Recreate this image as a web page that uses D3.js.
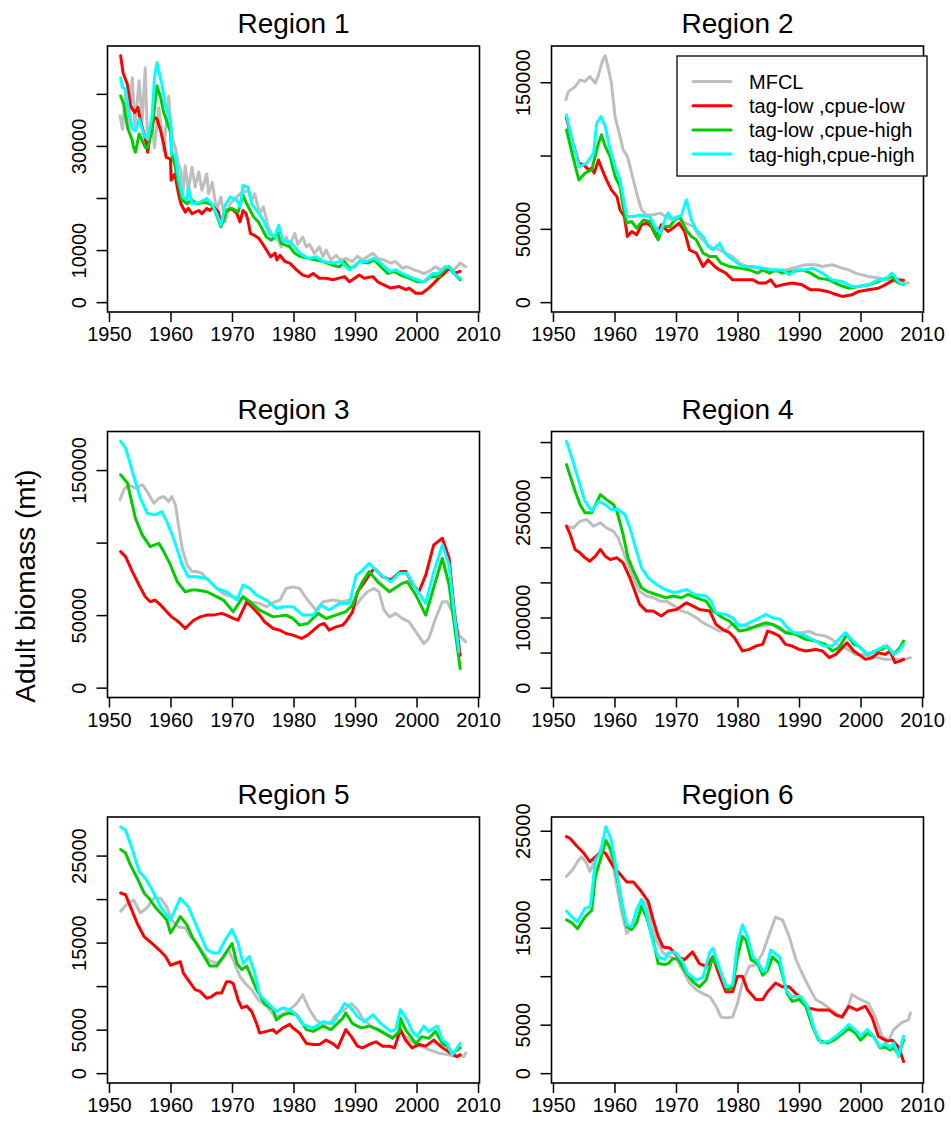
<!DOCTYPE html>
<html>
<head>
<meta charset="utf-8">
<script src="https://cdn.jsdelivr.net/npm/d3@7"></script>
<style>
  html, body { margin: 0; padding: 0; background: #fff; }
  svg { display: block; }
  text { font-family: "Liberation Sans", Arial, Helvetica, sans-serif; fill: #000; }
</style>
</head>
<body>
<svg id="chart" width="951" height="1139"></svg>
<script>
// ---- Series definitions -------------------------------------------------
const seriesNames  = ["MFCL", "tag-low ,cpue-low", "tag-low ,cpue-high", "tag-high,cpue-high"];
const seriesColors = ["#BEBEBE", "#FF0000", "#00CD00", "#00FFFF"];

// Model years covered (axis range is padded 4% either side, as in base R)
const yearRange = [1952, 2008];
const xTicks = [1950, 1960, 1970, 1980, 1990, 2000, 2010];

// ---- Region 1 (adult biomass, t) ----------------------------------------
const r1Mfcl = [[1951.8,35800],[1952.2,33200],[1952.7,40600],[1953.2,33600],[1953.8,43100],[1954.2,33600],[1954.9,42500],[1955.4,34800],[1955.9,45000],[1956.3,29700],[1957.0,34200],[1957.4,29700],[1958.1,37400],[1958.9,29100],[1959.7,39600],[1960.2,31700],[1960.8,29700],[1961.3,26600],[1961.7,25300],[1962.0,20800],[1962.4,26200],[1962.9,21500],[1963.5,25900],[1964.0,22100],[1964.6,25000],[1965.1,21500],[1965.9,24600],[1966.2,20800],[1966.8,23000],[1967.5,17600],[1968.2,20200],[1968.9,15400],[1969.7,18900],[1971.3,20800],[1972.6,21500],[1973.2,19600],[1973.7,20800],[1974.5,17000],[1975.1,18300],[1975.9,14500],[1976.7,12500],[1977.5,11900],[1978.0,10600],[1978.8,12500],[1979.4,10900],[1980.2,13200],[1980.7,11100],[1981.5,12500],[1982.1,10600],[1982.6,11100],[1983.4,9400],[1984.2,10600],[1984.8,8800],[1985.3,10000],[1986.1,8100],[1986.9,9000],[1987.7,8100],[1988.5,8400],[1989.6,7800],[1990.4,8800],[1991.2,8100],[1992.9,9400],[1993.7,8400],[1994.7,8100],[1995.8,7500],[1996.6,7800],[1997.7,6500],[1998.5,6800],[1999.6,6200],[2000.4,5900],[2001.2,5500],[2002.0,5900],[2003.1,6800],[2003.9,6200],[2004.7,6800],[2006.1,6200],[2007.1,7500],[2008.0,6800]];
const r1LowLow = [[1951.9,47300],[1952.3,44000],[1953.0,41800],[1953.5,37700],[1954.2,36400],[1954.7,37400],[1955.1,34900],[1955.7,32300],[1956.1,30400],[1956.3,28800],[1956.7,32300],[1957.4,35500],[1957.8,35200],[1958.4,32900],[1958.9,30400],[1959.3,27800],[1960.0,27500],[1960.1,23400],[1960.7,24600],[1961.3,20800],[1961.7,18900],[1962.4,17300],[1962.9,18000],[1963.5,17000],[1964.6,17600],[1965.1,17000],[1965.9,18000],[1966.4,17600],[1967.0,18300],[1967.8,17300],[1968.2,14800],[1968.6,16400],[1969.1,17600],[1970.0,17900],[1970.8,17000],[1971.3,15400],[1971.8,17600],[1972.3,17000],[1972.6,15700],[1973.0,13200],[1973.7,12800],[1974.4,12200],[1975.3,10600],[1976.3,8700],[1977.0,9400],[1977.3,8100],[1977.8,9000],[1978.6,7800],[1979.4,7500],[1980.5,6200],[1981.5,5200],[1982.4,4900],[1983.2,5500],[1984.2,4600],[1985.3,4600],[1986.4,4300],[1988.3,4900],[1989.1,3900],[1990.7,5200],[1991.5,4600],[1992.9,4900],[1993.7,3900],[1994.7,3300],[1995.8,2700],[1997.2,3000],[1998.3,2400],[1998.8,2700],[1999.9,1700],[2000.9,1700],[2002.0,2700],[2002.8,3600],[2003.6,4600],[2004.5,5500],[2005.3,6500],[2006.1,5500],[2007.1,5900]];
const r1LowHigh = [[1951.9,39600],[1952.4,38000],[1953.0,33600],[1953.8,31000],[1954.0,29700],[1954.3,28800],[1954.9,32300],[1955.4,31000],[1955.9,29700],[1956.3,29700],[1957.0,32900],[1957.4,37400],[1957.8,41500],[1958.4,39300],[1958.9,36400],[1959.4,34800],[1960.0,32600],[1960.2,28500],[1960.8,25900],[1961.3,22700],[1961.9,19600],[1962.7,18900],[1963.5,19600],[1964.3,18900],[1965.4,19200],[1966.4,18900],[1967.0,18300],[1967.5,16700],[1968.2,14500],[1968.6,15700],[1969.1,17600],[1970.0,18000],[1971.0,17300],[1971.8,20500],[1972.4,18900],[1973.5,16400],[1974.3,15400],[1975.6,12500],[1976.4,11900],[1977.5,13200],[1978.0,11300],[1979.4,10600],[1980.2,9400],[1981.0,8800],[1982.4,8400],[1983.7,8100],[1984.8,7800],[1986.4,7100],[1987.5,6800],[1988.3,7800],[1989.1,6500],[1989.9,6800],[1990.7,7800],[1992.1,7500],[1993.1,8100],[1994.2,6800],[1995.3,5500],[1996.4,5900],[1997.4,5200],[1998.8,4600],[2000.1,3900],[2001.2,3900],[2002.3,4900],[2003.6,4900],[2004.5,6200],[2005.3,6800],[2006.1,5500],[2007.1,4300]];
const r1HighHigh = [[1951.9,43100],[1952.2,41200],[1952.7,40900],[1953.2,36800],[1953.8,33200],[1954.3,32900],[1954.9,35200],[1955.7,32000],[1956.3,31300],[1957.0,35800],[1957.4,43100],[1957.8,46000],[1958.6,41800],[1959.2,37700],[1959.7,36400],[1960.1,33600],[1960.2,28500],[1960.8,28200],[1961.3,24000],[1962.0,20200],[1962.7,19600],[1962.9,22100],[1963.5,18900],[1964.8,19200],[1965.9,19900],[1966.7,18900],[1967.5,17000],[1968.2,14800],[1968.9,18600],[1969.7,20200],[1970.8,19600],[1971.3,18300],[1971.8,22400],[1972.6,22100],[1973.2,18900],[1974.0,17600],[1975.1,15700],[1976.2,12900],[1977.0,12600],[1977.6,14800],[1978.2,11900],[1979.4,11600],[1980.2,10600],[1981.0,9400],[1982.4,8400],[1983.7,8700],[1984.8,7800],[1986.4,7500],[1987.7,7800],[1989.1,6200],[1990.7,7800],[1991.8,7800],[1993.1,8400],[1994.2,7500],[1995.6,5900],[1996.6,6200],[1997.7,5500],[1998.8,4900],[2000.1,4300],[2001.2,3900],[2002.6,5500],[2003.6,5500],[2004.7,6800],[2005.3,6800],[2006.1,5500],[2007.1,4600]];

// ---- Region 2 -----------------------------------------------------------
const r2Mfcl = [[1952.1,138000],[1952.5,143600],[1953.6,147000],[1954.4,151600],[1955.2,150500],[1956.0,153900],[1956.9,149300],[1957.4,155000],[1958.1,165200],[1958.5,168000],[1959.0,159500],[1959.5,149300],[1960.1,126600],[1960.9,113000],[1961.4,104000],[1962.1,99300],[1962.8,88000],[1963.6,74300],[1964.4,63000],[1965.2,59500],[1966.3,59500],[1967.4,60700],[1968.4,58400],[1969.3,56100],[1970.1,58400],[1971.1,54800],[1972.8,51600],[1973.8,44800],[1974.9,40200],[1976.0,36800],[1977.1,35700],[1978.1,33400],[1979.2,31100],[1980.3,26600],[1981.7,24300],[1983.0,23200],[1984.6,22000],[1986.2,20900],[1987.8,22000],[1988.9,23200],[1990.0,24300],[1991.1,25500],[1992.7,25500],[1993.8,24300],[1995.4,25500],[1997.0,23200],[1998.1,22000],[1999.2,19800],[2000.2,18600],[2001.3,17500],[2002.9,16400],[2004.6,15200],[2005.6,14100],[2006.7,13000],[2007.8,13000]];
const r2LowLow = [[1952.2,125500],[1953.1,110700],[1954.2,94800],[1955.0,93600],[1955.8,90200],[1956.3,91400],[1956.7,88000],[1957.4,97000],[1957.9,91400],[1958.7,83400],[1959.5,76600],[1960.4,72000],[1960.9,63000],[1961.6,58400],[1962.1,44800],[1962.8,48200],[1963.6,45900],[1964.4,52700],[1965.2,53900],[1966.0,51600],[1966.8,44800],[1967.6,52700],[1968.7,48200],[1969.5,50500],[1970.5,53900],[1971.4,48200],[1972.2,35700],[1973.3,33400],[1974.4,24300],[1975.2,28900],[1976.3,24300],[1977.1,22000],[1978.1,19800],[1979.2,15200],[1980.8,15200],[1982.5,15200],[1983.5,13000],[1984.6,13000],[1985.4,15200],[1986.2,10700],[1987.3,11800],[1988.9,13000],[1990.5,11800],[1991.9,8400],[1993.2,8400],[1994.6,7300],[1995.4,6100],[1997.0,3900],[1998.6,5000],[1999.7,7300],[2001.3,8400],[2002.9,9500],[2004.0,11800],[2005.4,15200],[2006.2,15200],[2007.0,15000]];
const r2LowHigh = [[1952.2,117500],[1953.1,101600],[1954.2,83400],[1955.2,88000],[1956.3,90200],[1957.4,108400],[1957.9,114100],[1958.5,106100],[1959.3,99300],[1960.1,85700],[1960.9,78900],[1961.4,65200],[1962.0,53900],[1962.8,55000],[1963.6,50500],[1964.7,56100],[1965.7,55000],[1966.6,47700],[1967.1,42500],[1967.9,51600],[1969.0,51600],[1969.8,56100],[1970.6,58400],[1971.7,48900],[1972.5,44800],[1973.3,42500],[1974.4,33400],[1975.5,31100],[1976.5,31100],[1977.3,26600],[1978.7,24300],[1980.3,23200],[1981.9,22000],[1983.3,19800],[1984.1,22000],[1985.2,19800],[1986.2,22000],[1987.3,19800],[1988.9,20900],[1990.5,22000],[1991.9,19800],[1993.2,16400],[1994.9,15200],[1996.5,11800],[1998.1,9500],[1999.7,10700],[2001.3,11800],[2002.9,14100],[2004.3,16400],[2005.1,17500],[2006.2,13000],[2007.0,12000]];
const r2HighHigh = [[1952.2,127700],[1953.1,110700],[1954.3,92500],[1955.5,94800],[1956.6,101600],[1957.1,122000],[1957.8,126600],[1958.5,119800],[1959.3,103900],[1960.1,92500],[1960.9,83400],[1961.4,72000],[1962.0,58400],[1963.1,58400],[1964.1,59500],[1965.7,58400],[1966.6,51600],[1967.4,47000],[1968.2,56100],[1968.7,60700],[1969.5,56100],[1970.9,59500],[1971.7,69800],[1972.5,56100],[1973.3,49300],[1974.4,44800],[1975.2,38000],[1976.0,35700],[1977.1,40200],[1977.9,33400],[1979.2,28900],[1980.8,24300],[1982.5,24300],[1984.1,23200],[1985.7,22000],[1987.3,22000],[1988.4,18600],[1989.5,22000],[1991.1,22000],[1992.2,23200],[1993.8,19800],[1995.4,15200],[1997.0,14100],[1998.6,10700],[1999.7,10700],[2001.3,11800],[2002.9,15200],[2004.0,15200],[2005.1,19800],[2005.6,17500],[2006.4,13000],[2007.0,12500]];

// ---- Region 3 -----------------------------------------------------------
const r3Mfcl = [[1951.8,129500],[1952.4,136400],[1953.2,139900],[1954.3,137600],[1955.4,139900],[1956.2,135300],[1957.3,127200],[1958.1,130600],[1958.9,131800],[1959.7,128300],[1960.2,131800],[1960.8,126000],[1961.3,112200],[1961.9,96100],[1962.7,84600],[1963.5,80000],[1964.3,80000],[1965.1,78800],[1965.9,75300],[1967.0,70700],[1968.1,66100],[1969.1,63800],[1970.2,62700],[1971.6,61500],[1972.9,59200],[1974.5,58100],[1975.6,55800],[1977.0,59200],[1977.8,60400],[1978.8,68400],[1979.9,69500],[1981.0,68400],[1982.1,61500],[1983.2,55800],[1983.7,53500],[1984.8,59200],[1986.4,60400],[1988.0,59200],[1989.1,60400],[1990.2,56900],[1991.0,61500],[1992.0,66100],[1993.1,68400],[1993.9,66100],[1994.7,53500],[1995.6,48800],[1996.6,51200],[1997.7,47700],[1998.8,45400],[2000.1,37300],[2001.2,30400],[2002.0,33900],[2003.1,47700],[2004.2,59200],[2005.0,59200],[2005.8,52300],[2006.9,36200],[2008.0,31600]];
const r3LowLow = [[1951.9,93800],[1952.7,90300],[1953.8,80000],[1954.9,70700],[1955.9,62700],[1956.7,59200],[1957.5,60400],[1958.4,56900],[1959.4,52300],[1960.2,48800],[1961.3,45400],[1962.4,40800],[1963.2,44200],[1963.8,46500],[1964.8,48800],[1965.9,50000],[1967.0,50000],[1968.3,51200],[1969.1,50000],[1970.2,47700],[1971.0,46500],[1972.4,59200],[1973.5,54600],[1974.5,50000],[1975.3,45400],[1976.7,40800],[1977.8,39600],[1978.8,37300],[1979.9,36200],[1981.3,33900],[1982.3,36200],[1984.2,43100],[1985.0,44200],[1985.8,39600],[1986.9,41900],[1988.0,43100],[1988.5,45400],[1989.6,52300],[1990.4,66100],[1991.2,70700],[1992.3,77600],[1993.1,82300],[1994.5,76500],[1995.8,74200],[1997.4,80000],[1998.3,80000],[1999.3,71900],[2000.4,66100],[2001.5,77600],[2002.8,98400],[2004.2,103000],[2005.3,89200],[2006.1,54600],[2007.1,22400]];
const r3LowHigh = [[1951.9,146800],[1953.0,141000],[1954.3,116800],[1955.4,105300],[1956.7,97200],[1958.1,99500],[1958.9,93800],[1960.0,84600],[1961.1,73000],[1962.4,66100],[1963.5,67300],[1964.3,67300],[1965.9,66100],[1967.5,62700],[1968.6,60400],[1970.2,52300],[1971.8,62700],[1972.9,59200],[1974.5,53500],[1976.7,48800],[1978.8,50000],[1979.9,47700],[1981.0,43100],[1982.3,44200],[1984.0,51200],[1985.3,47700],[1986.9,50000],[1988.5,52300],[1989.6,56900],[1990.7,68400],[1991.2,73000],[1992.3,80000],[1993.7,73000],[1995.6,66100],[1997.7,71900],[1998.5,73000],[1999.9,63800],[2001.5,50000],[2002.6,66100],[2004.2,89200],[2005.3,70700],[2006.3,38500],[2007.1,13100]];
const r3HighHigh = [[1951.9,169800],[1952.7,165200],[1953.8,149100],[1955.1,130600],[1956.2,120300],[1957.5,119100],[1958.6,121400],[1959.4,114500],[1960.5,103000],[1961.9,84600],[1962.9,76500],[1964.3,76500],[1965.9,75300],[1967.5,68400],[1969.1,66100],[1970.8,60400],[1971.8,70700],[1972.9,68400],[1974.0,63800],[1975.6,60400],[1977.2,54600],[1978.3,55800],[1979.9,55800],[1981.5,50000],[1983.2,50000],[1984.5,56900],[1985.8,53500],[1987.5,58100],[1989.1,58100],[1990.2,77600],[1991.0,80000],[1992.3,85700],[1993.9,78800],[1995.8,73000],[1997.2,78800],[1998.5,78800],[1999.9,68400],[2001.5,58100],[2002.8,79900],[2004.2,98400],[2005.3,84600],[2006.1,52300],[2006.9,24700]];

// ---- Region 4 -----------------------------------------------------------
const r4Mfcl = [[1952.2,230200],[1953.3,227700],[1954.4,237200],[1955.5,239600],[1956.6,230200],[1957.7,234900],[1958.7,227700],[1959.8,223000],[1960.6,213500],[1961.4,194500],[1962.2,175500],[1963.1,156500],[1964.1,137600],[1965.2,130500],[1966.3,128100],[1967.4,123300],[1968.4,123300],[1969.8,116200],[1970.9,109100],[1971.9,106700],[1973.3,99600],[1974.4,92500],[1976.0,85400],[1977.1,80600],[1978.1,80600],[1979.0,90100],[1980.3,90100],[1981.4,87800],[1982.5,85400],[1984.1,87800],[1985.7,90100],[1986.8,83000],[1987.8,80600],[1988.9,78300],[1990.5,78300],[1991.6,80600],[1992.7,75900],[1994.3,73500],[1995.4,68800],[1996.5,59300],[1997.5,56900],[1999.2,47400],[2000.2,47400],[2001.3,45100],[2002.9,42700],[2004.0,40300],[2006.2,40300],[2007.2,40300],[2008.1,42700]];
const r4LowLow = [[1952.2,230200],[1952.8,218300],[1953.6,196900],[1954.4,192100],[1955.2,185000],[1956.0,180300],[1956.9,187400],[1957.7,196900],[1958.5,187400],[1959.3,182700],[1960.4,185000],[1961.4,177900],[1962.5,156500],[1963.3,137600],[1964.1,118600],[1965.2,109100],[1966.3,109100],[1967.6,102000],[1968.7,109100],[1970.1,111400],[1971.7,120900],[1972.8,116200],[1973.8,111400],[1975.5,109100],[1976.5,90100],[1977.6,83000],[1978.7,78300],[1979.5,71200],[1980.8,52200],[1981.9,54500],[1983.0,59300],[1984.1,61700],[1984.9,80600],[1985.7,78300],[1986.8,73500],[1987.8,61700],[1988.9,59300],[1990.0,54500],[1991.1,52200],[1992.7,54500],[1993.8,52200],[1994.9,42700],[1996.0,47400],[1997.8,64000],[1998.9,52200],[1999.7,47400],[2000.8,40300],[2001.9,42700],[2002.9,49800],[2004.0,47400],[2004.8,52200],[2005.6,35600],[2006.4,37900],[2007.0,40300]];
const r4LowHigh = [[1952.2,317800],[1953.6,279900],[1954.4,260900],[1955.2,249100],[1956.3,249100],[1957.7,275100],[1958.7,268000],[1959.8,260900],[1960.4,251400],[1961.4,218300],[1962.2,185000],[1963.1,166000],[1964.4,142300],[1965.2,137600],[1966.8,132800],[1968.4,128100],[1969.5,130500],[1970.9,128100],[1971.9,132800],[1973.3,128100],[1974.9,123300],[1976.0,109100],[1977.6,99600],[1978.7,94900],[1980.3,80600],[1981.7,83000],[1983.0,87800],[1984.6,92500],[1985.7,90100],[1986.8,85400],[1987.8,78300],[1989.5,75900],[1991.1,68800],[1992.7,66400],[1994.3,61700],[1995.4,52200],[1996.5,56900],[1997.8,75900],[1998.9,61700],[1999.7,59300],[2001.1,47400],[2002.4,52200],[2003.5,54500],[2004.3,59300],[2005.4,47400],[2006.4,56900],[2007.0,66400]];
const r4HighHigh = [[1952.2,351000],[1953.1,327300],[1954.2,294100],[1955.2,265700],[1956.3,251400],[1957.4,265700],[1958.5,260900],[1959.5,253800],[1960.6,253800],[1961.7,246700],[1962.5,227700],[1963.6,194500],[1964.4,170800],[1965.5,156500],[1966.8,147100],[1968.2,139900],[1969.8,135200],[1971.7,139900],[1973.0,132800],[1974.9,130500],[1975.7,123300],[1976.5,106700],[1978.1,104400],[1979.2,99600],[1980.3,87800],[1981.4,90100],[1982.5,94900],[1984.6,104400],[1985.7,99600],[1987.0,97300],[1988.1,85400],[1989.2,78300],[1990.5,75900],[1991.6,71200],[1992.7,66400],[1994.0,59300],[1995.4,59300],[1997.5,78300],[1998.3,71200],[1999.4,61700],[2001.1,47400],[2002.4,52200],[2003.8,59300],[2004.6,56900],[2005.4,47400],[2006.2,52200],[2007.0,61700]];

// ---- Region 5 -----------------------------------------------------------
const r5Mfcl = [[1951.9,18600],[1953.0,19500],[1954.0,19900],[1955.1,18400],[1956.2,19000],[1957.3,20100],[1958.4,20100],[1959.4,19100],[1960.2,17600],[1961.3,16800],[1962.4,16700],[1963.2,15700],[1964.3,14900],[1965.4,13800],[1966.2,13000],[1967.5,12600],[1968.6,13200],[1969.4,14200],[1970.2,13000],[1971.3,11100],[1972.4,10100],[1973.2,9600],[1974.3,8400],[1975.6,7700],[1977.0,6500],[1978.0,6700],[1979.4,7300],[1980.5,8000],[1981.5,9000],[1982.6,7300],[1983.7,6100],[1984.8,5600],[1985.9,5700],[1986.9,6700],[1988.0,7100],[1989.4,8000],[1990.4,7300],[1991.2,6300],[1992.6,5400],[1993.9,5000],[1995.3,4400],[1996.6,4200],[1997.7,4600],[1998.8,3800],[1999.9,3400],[2002.0,2700],[2003.6,2300],[2005.3,2100],[2006.1,1900],[2006.9,2100],[2007.7,1900],[2008.0,2300]];
const r5LowLow = [[1951.9,20700],[1952.7,20500],[1953.5,19100],[1954.6,17200],[1955.7,15700],[1957.0,14900],[1958.1,14200],[1959.2,13400],[1960.0,12400],[1960.8,12600],[1961.6,12800],[1962.1,11500],[1962.9,10700],[1964.0,9600],[1964.8,9400],[1965.9,8600],[1966.7,8800],[1967.5,9200],[1968.3,9200],[1969.1,10500],[1969.7,10500],[1970.2,10300],[1971.0,8400],[1971.6,7500],[1972.4,7700],[1973.2,7100],[1974.0,5700],[1974.5,4600],[1975.6,4800],[1976.7,5000],[1977.2,4600],[1978.3,5200],[1979.4,5600],[1979.9,5200],[1981.0,4600],[1982.1,3400],[1983.2,3300],[1984.2,3300],[1985.3,3800],[1986.4,3400],[1987.2,2900],[1988.0,4200],[1988.5,5000],[1989.4,4200],[1990.4,3100],[1991.2,2900],[1992.6,3400],[1993.4,3600],[1994.5,3100],[1995.6,3100],[1996.4,2900],[1997.4,5000],[1998.2,3800],[1999.3,2900],[2000.4,3300],[2001.5,3100],[2002.8,3800],[2003.9,3100],[2004.7,2700],[2005.5,2300],[2006.6,1900],[2007.1,2100]];
const r5LowHigh = [[1951.9,25700],[1952.7,25300],[1953.5,23900],[1954.6,22400],[1955.7,20700],[1956.5,20100],[1957.5,19100],[1959.4,17600],[1960.0,16100],[1960.8,17000],[1961.6,18000],[1962.7,17000],[1963.5,15700],[1964.8,14200],[1966.4,12300],[1967.5,12300],[1968.6,13400],[1970.0,14900],[1970.8,12600],[1971.6,11900],[1972.4,12300],[1974.0,9600],[1975.3,8000],[1976.7,7300],[1977.2,6100],[1978.3,6700],[1979.4,6900],[1980.5,6700],[1982.1,5000],[1983.2,4800],[1984.8,5400],[1986.1,5000],[1988.0,6300],[1988.5,6900],[1989.6,5700],[1991.0,5200],[1992.3,5400],[1993.7,5000],[1994.7,4600],[1996.1,4000],[1997.2,4800],[1997.4,6300],[1998.2,5000],[1999.9,3400],[2000.9,4200],[2002.0,4000],[2003.1,4800],[2004.2,3400],[2005.0,3100],[2005.8,2300],[2007.1,2900]];
const r5HighHigh = [[1951.9,28300],[1952.7,27900],[1953.8,25700],[1954.9,23200],[1955.9,22400],[1957.0,21100],[1958.4,19100],[1960.0,17600],[1961.6,20100],[1962.9,19100],[1964.3,16800],[1965.9,14200],[1967.0,13800],[1967.8,13800],[1968.9,15300],[1970.0,16500],[1971.0,14900],[1971.8,12600],[1972.8,13400],[1973.7,11500],[1974.5,9000],[1975.6,8200],[1977.2,7100],[1978.3,7500],[1979.4,7300],[1980.5,6700],[1981.5,5600],[1983.2,5200],[1984.8,5900],[1986.4,5700],[1988.3,8000],[1989.1,7700],[1990.4,6500],[1991.5,5900],[1992.9,6700],[1994.2,5700],[1995.8,4800],[1996.6,5000],[1997.4,7300],[1998.5,6100],[1999.3,4800],[2000.1,4200],[2001.2,5400],[2002.0,4800],[2003.4,5400],[2004.2,3800],[2005.0,3400],[2005.8,2100],[2007.1,3400]];

// ---- Region 6 -----------------------------------------------------------
const r6Mfcl = [[1952.2,20300],[1953.1,20900],[1954.2,22000],[1954.7,22300],[1955.5,21600],[1956.0,20800],[1956.9,22000],[1957.7,23000],[1958.5,23800],[1959.0,23700],[1959.8,21300],[1960.4,19200],[1961.2,16500],[1962.0,14400],[1962.8,15100],[1963.6,16800],[1964.4,17900],[1965.2,17500],[1966.0,15500],[1966.8,13700],[1967.9,12400],[1969.0,12000],[1970.1,11700],[1971.1,10600],[1972.2,9300],[1973.3,8600],[1974.4,8200],[1975.5,7900],[1976.5,6900],[1977.3,5800],[1978.1,5700],[1979.2,5800],[1980.0,7200],[1980.8,9300],[1981.9,11000],[1983.0,11200],[1984.1,12400],[1985.2,14400],[1986.2,16100],[1987.3,15800],[1988.4,14100],[1989.5,11700],[1990.5,10300],[1991.6,8900],[1992.7,7600],[1993.8,7200],[1994.9,6700],[1996.0,6200],[1997.0,5700],[1997.8,6500],[1998.6,8100],[1999.7,7700],[2001.3,7200],[2002.4,5800],[2003.5,3800],[2004.6,3400],[2005.4,4500],[2006.7,5200],[2007.8,5500],[2008.1,6200]];
const r6LowLow = [[1952.2,24400],[1952.8,24200],[1953.9,23400],[1955.0,22700],[1956.0,21800],[1956.9,22300],[1957.9,22800],[1958.5,22700],[1959.8,21300],[1961.2,20300],[1962.0,19700],[1963.1,19700],[1964.4,18700],[1965.5,17700],[1966.3,15800],[1967.1,14100],[1967.9,13000],[1969.0,12900],[1970.3,12000],[1971.4,11700],[1972.7,12500],[1973.8,11300],[1974.9,11000],[1976.0,12000],[1977.1,10000],[1978.1,8400],[1979.2,8400],[1980.0,10000],[1980.8,10000],[1981.6,8600],[1983.0,7600],[1984.1,7600],[1984.9,8400],[1986.2,9300],[1987.3,8900],[1988.4,8900],[1989.5,8200],[1990.5,7600],[1991.6,6700],[1993.2,6500],[1994.9,6500],[1996.0,6000],[1997.0,5800],[1998.1,6900],[1999.4,6500],[2000.8,6900],[2001.9,5700],[2002.9,3800],[2004.3,3300],[2005.1,3400],[2006.2,2700],[2007.0,1200]];
const r6LowHigh = [[1952.2,15800],[1953.1,15500],[1954.0,14900],[1955.2,16100],[1956.3,16800],[1956.9,20300],[1957.7,22000],[1958.6,24000],[1959.5,23000],[1960.4,20300],[1961.2,17500],[1962.0,15100],[1962.8,14800],[1963.6,15500],[1964.4,17200],[1965.2,16100],[1966.3,13700],[1967.1,11300],[1968.2,11200],[1968.7,11300],[1969.5,11800],[1970.3,11800],[1971.7,10300],[1972.8,9400],[1973.8,8900],[1974.9,9600],[1976.0,12000],[1977.3,10300],[1978.4,8600],[1979.2,8900],[1980.0,12000],[1980.8,14100],[1981.4,13700],[1982.2,11700],[1983.3,11300],[1984.1,10100],[1984.9,10600],[1985.7,12000],[1986.8,11300],[1988.1,8200],[1988.9,7400],[1990.0,7600],[1991.1,6900],[1992.2,4800],[1993.2,3400],[1994.6,3100],[1995.7,3400],[1996.7,3900],[1998.1,4600],[1999.2,4100],[2000.0,3400],[2001.1,4100],[2002.1,3800],[2003.2,2600],[2004.0,2700],[2004.8,2400],[2005.4,2600],[2006.2,1900],[2007.0,3400]];
const r6HighHigh = [[1952.2,16700],[1953.1,16100],[1954.0,15600],[1955.2,17000],[1956.1,17200],[1956.9,22000],[1957.7,22700],[1958.6,25400],[1959.5,24000],[1960.4,20600],[1961.2,17500],[1962.0,15300],[1962.8,15100],[1963.6,16800],[1964.4,17900],[1965.2,16500],[1966.3,13400],[1967.1,12000],[1968.2,11700],[1968.7,12400],[1969.8,12500],[1970.9,11700],[1971.9,10300],[1973.3,9600],[1974.4,9900],[1975.5,12500],[1976.0,12900],[1977.1,10800],[1978.1,8900],[1979.2,9100],[1980.0,13400],[1980.8,15300],[1981.6,14100],[1982.5,12000],[1983.3,11500],[1984.1,10500],[1984.6,10600],[1985.4,12700],[1986.8,12000],[1987.9,8600],[1988.7,7900],[1990.3,7900],[1991.4,6900],[1992.5,4500],[1993.6,3100],[1994.9,3300],[1996.0,3800],[1997.3,4500],[1998.1,5000],[1999.4,4300],[2000.0,3800],[2001.1,4500],[2002.1,3800],[2003.2,2700],[2004.0,3100],[2004.8,2600],[2005.4,3100],[2006.2,1700],[2006.8,3400],[2007.0,3800]];

// ---- Y-axis ticks (all drawn) and the subset that carries a label -------
const r1Ticks = [0, 10000, 20000, 30000, 40000];
const r1Labels = [0, 10000, 30000];
const r2Ticks = [0, 50000, 100000, 150000];
const r2Labels = [0, 50000, 150000];
const r3Ticks = [0, 50000, 100000, 150000];
const r3Labels = [0, 50000, 150000];
const r4Ticks = [0, 50000, 100000, 150000, 200000, 250000, 300000, 350000];
const r4Labels = [0, 100000, 250000];
const r5Ticks = [0, 5000, 10000, 15000, 20000, 25000];
const r5Labels = [0, 5000, 15000, 25000];
const r6Ticks = [0, 5000, 10000, 15000, 20000, 25000];
const r6Labels = [0, 5000, 15000, 25000];

const panelTitles = ["Region 1", "Region 2", "Region 3", "Region 4", "Region 5", "Region 6"];
const panelSeries = [
  [r1Mfcl, r1LowLow, r1LowHigh, r1HighHigh],
  [r2Mfcl, r2LowLow, r2LowHigh, r2HighHigh],
  [r3Mfcl, r3LowLow, r3LowHigh, r3HighHigh],
  [r4Mfcl, r4LowLow, r4LowHigh, r4HighHigh],
  [r5Mfcl, r5LowLow, r5LowHigh, r5HighHigh],
  [r6Mfcl, r6LowLow, r6LowHigh, r6HighHigh]
];
const panelTicks  = [r1Ticks, r2Ticks, r3Ticks, r4Ticks, r5Ticks, r6Ticks];
const panelLabels = [r1Labels, r2Labels, r3Labels, r4Labels, r5Labels, r6Labels];

// ---- Layout -------------------------------------------------------------
const colX = [107.5, 551.5];
const rowY = [46, 431.5, 817];
const PW = 372, PH = 266;
const TICK_FONT = 20, TITLE_FONT = 28;

const svg = d3.select("#chart");
svg.append("rect").attr("width", 951).attr("height", 1139).attr("fill", "#fff");

const xPad = 0.04 * (yearRange[1] - yearRange[0]);

panelSeries.forEach((series, i) => {
  const col = i % 2, row = Math.floor(i / 2);
  const g = svg.append("g").attr("transform", `translate(${colX[col]},${rowY[row]})`);

  const x = d3.scaleLinear()
    .domain([yearRange[0] - xPad, yearRange[1] + xPad])
    .range([0, PW]);
  // ylim = c(0, max) with the usual 4% extension
  const maxVal = d3.max(series.flat(), d => d[1]);
  const y = d3.scaleLinear()
    .domain([-0.04 * maxVal, 1.04 * maxVal])
    .range([PH, 0]);

  const line = d3.line().x(d => x(d[0])).y(d => y(d[1]));

  // lines: MFCL underneath, then the three scenarios
  series.forEach((s, k) => {
    g.append("path")
      .datum(s)
      .attr("d", line)
      .attr("fill", "none")
      .attr("stroke", seriesColors[k])
      .attr("stroke-width", 3)
      .attr("stroke-linejoin", "round")
      .attr("stroke-linecap", "round");
  });

  // plot box
  g.append("rect")
    .attr("x", 0).attr("y", 0).attr("width", PW).attr("height", PH)
    .attr("fill", "none").attr("stroke", "#000").attr("stroke-width", 1.6);

  // x axis
  const xa = g.append("g")
    .attr("transform", `translate(0,${PH})`)
    .call(d3.axisBottom(x).tickValues(xTicks).tickSize(10).tickSizeOuter(0).tickFormat(d => String(d)));
  xa.select(".domain").remove();
  xa.selectAll(".tick line").attr("stroke", "#000").attr("stroke-width", 1.5);
  xa.selectAll(".tick text")
    .attr("y", 29).attr("dy", null)
    .attr("font-size", TICK_FONT)
    .attr("font-family", "Liberation Sans, Arial, sans-serif")
    .attr("fill", "#000");

  // y axis (labels parallel to the axis)
  const labels = panelLabels[i];
  const ya = g.append("g")
    .call(d3.axisLeft(y).tickValues(panelTicks[i]).tickSize(11).tickSizeOuter(0)
      .tickFormat(d => labels.includes(d) ? String(d) : ""));
  ya.select(".domain").remove();
  ya.selectAll(".tick line").attr("stroke", "#000").attr("stroke-width", 1.5);
  ya.selectAll(".tick text")
    .attr("x", 0).attr("y", -22).attr("dy", null)
    .attr("transform", "rotate(-90)")
    .attr("text-anchor", "middle")
    .attr("font-size", TICK_FONT)
    .attr("font-family", "Liberation Sans, Arial, sans-serif")
    .attr("fill", "#000");

  // panel title
  g.append("text")
    .attr("x", PW / 2).attr("y", -13)
    .attr("text-anchor", "middle")
    .attr("font-size", TITLE_FONT)
    .text(panelTitles[i]);
});

// shared y-axis title
svg.append("text")
  .attr("transform", "translate(35,586) rotate(-90)")
  .attr("text-anchor", "middle")
  .attr("font-size", 28)
  .text("Adult biomass (mt)");

// legend (top-right of Region 2)
const legend = svg.append("g");
legend.append("rect")
  .attr("x", 677).attr("y", 56).attr("width", 250).attr("height", 120)
  .attr("fill", "#fff").attr("stroke", "#000").attr("stroke-width", 1.3);
seriesNames.forEach((name, k) => {
  const cy = 81.5 + k * 24.2;
  legend.append("line")
    .attr("x1", 693).attr("x2", 731).attr("y1", cy).attr("y2", cy)
    .attr("stroke", seriesColors[k]).attr("stroke-width", 3).attr("stroke-linecap", "round");
  legend.append("text")
    .attr("x", 749).attr("y", cy + 7.5)
    .attr("font-size", 20)
    .text(name);
});
</script>
</body>
</html>
